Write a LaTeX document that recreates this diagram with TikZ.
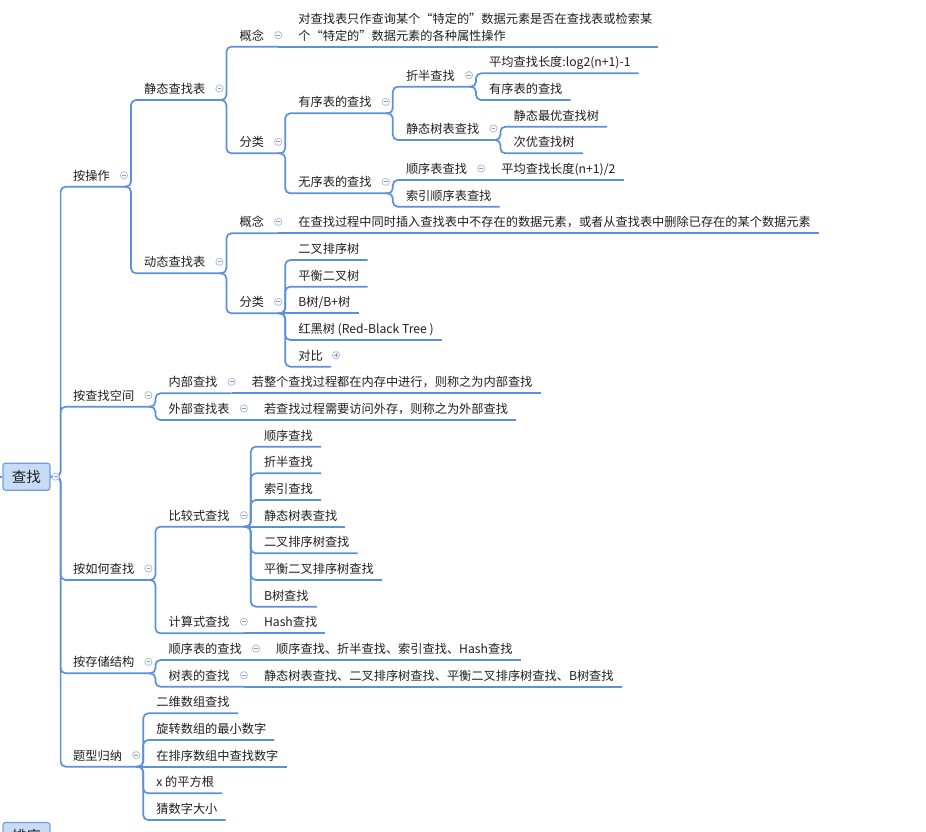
\documentclass[tikz,border=0pt]{standalone}
\usepackage{fontspec}
\setmainfont{Noto Sans CJK SC}
\usetikzlibrary{calc}
\definecolor{lineblue}{HTML}{5B8FE0}
\definecolor{circ}{HTML}{A9BEDD}
\definecolor{circmark}{HTML}{8C9AB0}
\definecolor{boxfill}{HTML}{C7DBF5}
\definecolor{boxdraw}{HTML}{6F9EE3}
\definecolor{txt}{HTML}{1E1E1E}
\tikzset{
  topic/.style={inner sep=0pt, font=\fontsize{12.2}{17}\selectfont, text=txt, anchor=base west},
  conn/.style={draw=lineblue, line width=1.7pt, rounded corners=5pt},
  coll/.style={draw=circ, fill=white, line width=0.8pt},
  collmark/.style={draw=circmark, line width=0.7pt},
  rootbox/.style={draw=boxdraw, fill=boxfill, line width=1.2pt, rounded corners=2.5pt,
    minimum width=47pt, minimum height=27pt, font=\fontsize{14.5}{16}\selectfont, text=txt, inner sep=0pt},
}
% placement helpers
\newcommand\mkpos[3]{%
  \path (#2.base east) ++(34,0) coordinate (#1-px);
  \pgfmathsetmacro\tpy{#3-6.5}
  \coordinate (#1-py) at (0,\tpy);
}
\newcommand\tleaf[4]{\mkpos{#1}{#2}{#3}%
  \node[topic] (#1) at (#1-px |- #1-py) {#4};
  \path (#1.base east) ++(8,6.5) coordinate (#1-e);}
\newcommand\tpar[4]{\mkpos{#1}{#2}{#3}%
  \node[topic] (#1) at (#1-px |- #1-py) {#4};
  \path (#1.base east) ++(14,6.5) coordinate (#1-e) (#1.base east) ++(14,-5) coordinate (#1-c);}
\newcommand\tlone[3]{\pgfmathsetmacro\tpy{#2-6.5}%
  \node[topic] (#1) at (73,\tpy) {#3};
  \path (#1.base east) ++(14,6.5) coordinate (#1-e) (#1.base east) ++(14,-5) coordinate (#1-c);}
\newcommand\cn[2]{\draw[conn] (#1-e) -- ++(7,0) |- (#2-e);}
\newcommand\cs[2]{\draw[conn] (#1-e) -- (#2-e);}
\newcommand\cmin[1]{\draw[coll] (#1-c) circle (3.6pt);
  \draw[collmark] ($(#1-c)+(-1.9,0)$) -- ($(#1-c)+(1.9,0)$);}
\newcommand\cplus[1]{\draw[coll] (#1-c) circle (3.6pt);
  \draw[collmark] ($(#1-c)+(-1.9,0)$) -- ($(#1-c)+(1.9,0)$) ($(#1-c)+(0,-1.9)$) -- ($(#1-c)+(0,1.9)$);}

\begin{document}
\begin{tikzpicture}[x=1pt,y=-1pt]
\useasboundingbox (0,0) rectangle (926,832);
\clip (0,0) rectangle (926,832);

% roots
\node[rootbox] (root) at (26.5,476.67) {查找};
\coordinate (root-e) at (root.east);
\coordinate (root-c) at ($(root.east)+(5,0)$);
\node[rootbox] (root2) at (26.5,836) {排序};
\coordinate (offl) at (-6,476.67);

% level 1
\tlone{a1}{186.67}{按操作}
\tlone{a2}{406.67}{按查找空间}
\tlone{a3}{580}{按如何查找}
\tlone{a4}{673.33}{按存储结构}
\tlone{a5}{766.67}{题型归纳}

% 按操作
\tpar{b1}{a1}{100}{静态查找表}
\tpar{b2}{a1}{273.33}{动态查找表}
\tpar{c1}{b1}{46.67}{概念}
\tpar{c2}{b1}{153.33}{分类}
\path (c1.base east) ++(34,0) coordinate (d1-px);
\coordinate (d1-py) at (0,12.5);
\node[topic, anchor=north west, align=left] (d1) at (d1-px |- d1-py)
  {对查找表只作查询某个“特定的”数据元素是否在查找表或检索某\\个“特定的”数据元素的各种属性操作};
\path (d1.east |- c1-e) ++(6,0) coordinate (d1-e);
\tpar{e1}{c2}{113.33}{有序表的查找}
\tpar{e2}{c2}{193.33}{无序表的查找}
\tpar{f1}{e1}{86.67}{折半查找}
\tpar{f2}{e1}{140}{静态树表查找}
\tleaf{g1}{f1}{73.33}{平均查找长度:log2(n+1)-1}
\tleaf{g2}{f1}{100}{有序表的查找}
\tleaf{g3}{f2}{126.67}{静态最优查找树}
\tleaf{g4}{f2}{153.33}{次优查找树}
\tpar{f3}{e2}{180}{顺序表查找}
\tleaf{f4}{e2}{206.67}{索引顺序表查找}
\tleaf{g5}{f3}{180}{平均查找长度(n+1)/2}
\tpar{c3}{b2}{233.33}{概念}
\tleaf{d2}{c3}{233.33}{在查找过程中同时插入查找表中不存在的数据元素，或者从查找表中删除已存在的某个数据元素}
\tpar{c4}{b2}{313.33}{分类}
\tleaf{h1}{c4}{260}{二叉排序树}
\tleaf{h2}{c4}{286.67}{平衡二叉树}
\tleaf{h3}{c4}{313.33}{B树/B+树}
\tleaf{h4}{c4}{340}{红黑树 (Red-Black Tree )}
\tleaf{h5}{c4}{366.67}{对比}
\path (h5.base east) ++(13,-5) coordinate (h5-c);

% 按查找空间
\tpar{i1}{a2}{393.33}{内部查找}
\tpar{i2}{a2}{420}{外部查找表}
\tleaf{j1}{i1}{393.33}{若整个查找过程都在内存中进行，则称之为内部查找}
\tleaf{j2}{i2}{420}{若查找过程需要访问外存，则称之为外部查找}

% 按如何查找
\tpar{k1}{a3}{526.67}{比较式查找}
\tpar{k2}{a3}{633.33}{计算式查找}
\tleaf{l1}{k1}{446.67}{顺序查找}
\tleaf{l2}{k1}{473.33}{折半查找}
\tleaf{l3}{k1}{500}{索引查找}
\tleaf{l4}{k1}{526.67}{静态树表查找}
\tleaf{l5}{k1}{553.33}{二叉排序树查找}
\tleaf{l6}{k1}{580}{平衡二叉排序树查找}
\tleaf{l7}{k1}{606.67}{B树查找}
\tleaf{l8}{k2}{633.33}{Hash查找}

% 按存储结构
\tpar{m1}{a4}{660}{顺序表的查找}
\tpar{m2}{a4}{686.67}{树表的查找}
\tleaf{n1}{m1}{660}{顺序查找、折半查找、索引查找、Hash查找}
\tleaf{n2}{m2}{686.67}{静态树表查找、二叉排序树查找、平衡二叉排序树查找、B树查找}

% 题型归纳
\tleaf{o1}{a5}{713.33}{二维数组查找}
\tleaf{o2}{a5}{740}{旋转数组的最小数字}
\tleaf{o3}{a5}{766.67}{在排序数组中查找数字}
\tleaf{o4}{a5}{793.33}{x 的平方根}
\tleaf{o5}{a5}{820}{猜数字大小}

% connectors
\draw[conn] (offl) -- (root.west);
\foreach \t in {a1,a2,a3,a4,a5}{\draw[conn] (root-e) -- ++(10,0) |- (\t-e);}
\cn{a1}{b1}\cn{a1}{b2}
\cn{b1}{c1}\cn{b1}{c2}
\cs{c1}{d1}
\cn{c2}{e1}\cn{c2}{e2}
\cn{e1}{f1}\cn{e1}{f2}
\cn{f1}{g1}\cn{f1}{g2}
\cn{f2}{g3}\cn{f2}{g4}
\cn{e2}{f3}\cn{e2}{f4}
\cs{f3}{g5}
\cn{b2}{c3}\cn{b2}{c4}
\cs{c3}{d2}
\cn{c4}{h1}\cn{c4}{h2}\cs{c4}{h3}\cn{c4}{h4}\cn{c4}{h5}
\cn{a2}{i1}\cn{a2}{i2}
\cs{i1}{j1}\cs{i2}{j2}
\cn{a3}{k1}\cn{a3}{k2}
\cn{k1}{l1}\cn{k1}{l2}\cn{k1}{l3}\cs{k1}{l4}\cn{k1}{l5}\cn{k1}{l6}\cn{k1}{l7}
\cs{k2}{l8}
\cn{a4}{m1}\cn{a4}{m2}
\cs{m1}{n1}\cs{m2}{n2}
\cn{a5}{o1}\cn{a5}{o2}\cs{a5}{o3}\cn{a5}{o4}\cn{a5}{o5}

% collapse markers
\cmin{root}
\foreach \t in {a1,a2,a3,a4,a5,b1,b2,c1,c2,c3,c4,e1,e2,f1,f2,f3,i1,i2,k1,k2,m1,m2}{\cmin{\t}}
\cplus{h5}
\end{tikzpicture}
\end{document}
